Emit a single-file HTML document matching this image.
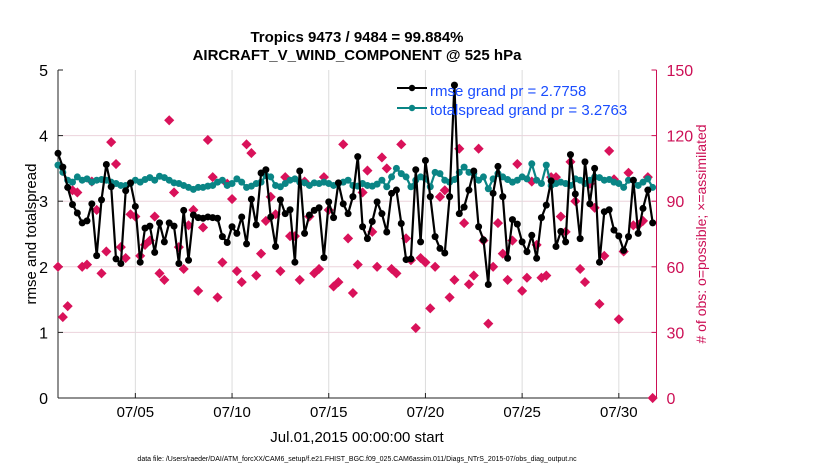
<!DOCTYPE html>
<html><head><meta charset="utf-8"><style>
html,body{margin:0;padding:0;background:#fff;}
svg{display:block;font-family:"Liberation Sans",Arial,sans-serif;}
</style></head><body>
<svg id="chart" width="830" height="470" viewBox="0 0 830 470">
<text x="357" y="42" text-anchor="middle" font-size="15" font-weight="bold">Tropics 9473 / 9484 = 99.884%</text>
<text x="357" y="60" text-anchor="middle" font-size="15" font-weight="bold">AIRCRAFT_V_WIND_COMPONENT @ 525 hPa</text>
<g id="grid"></g>
<g id="axes"></g>
<g id="marks"></g>
<g>
  <g>
    <line x1="397" y1="88" x2="427" y2="88" stroke="#000" stroke-width="2"/>
    <circle cx="412" cy="88" r="3.2" fill="#000"/>
    <text x="430" y="96" font-size="15" fill="#1a4dff">rmse grand pr = 2.7758</text>
  </g>
  <g>
    <line x1="397" y1="108" x2="427" y2="108" stroke="#0a8585" stroke-width="2"/>
    <circle cx="412" cy="108" r="3.2" fill="#0a8585"/>
    <text x="430" y="115" font-size="15" fill="#1a4dff">totalspread grand pr = 3.2763</text>
  </g>
</g>
<text transform="translate(36,234) rotate(-90)" text-anchor="middle" font-size="15">rmse and totalspread</text>
<text transform="translate(706,234) rotate(-90)" text-anchor="middle" font-size="14" fill="#cc0f55"># of obs: o=possible; ×=assimilated</text>
<text x="357" y="442" text-anchor="middle" font-size="15">Jul.01,2015 00:00:00 start</text>
<text x="357" y="461" text-anchor="middle" font-size="7">data file: /Users/raeder/DAI/ATM_forcXX/CAM6_setup/f.e21.FHIST_BGC.f09_025.CAM6assim.011/Diags_NTrS_2015-07/obs_diag_output.nc</text>
</svg>
<script>
const xTickDays=[4,9,14,19,24,29];
const xTickLabels=["07/05","07/10","07/15","07/20","07/25","07/30"];
const yTicks=[0,1,2,3,4,5];
const y2Ticks=[0,30,60,90,120,150];
const rmse=[3.73,3.52,3.21,2.95,2.82,2.67,2.70,2.96,2.17,3.02,3.56,3.22,2.12,2.05,3.16,3.28,2.92,2.07,2.59,2.62,2.22,2.67,2.38,2.67,2.62,2.05,2.86,2.10,2.79,2.75,2.74,2.76,2.75,2.74,2.46,2.37,2.61,2.51,2.76,2.35,3.03,2.64,3.43,3.48,2.76,2.31,3.02,2.81,2.87,2.07,3.46,2.51,2.79,2.86,2.90,2.14,2.99,2.75,3.28,2.96,2.81,3.07,3.68,2.61,2.43,2.69,2.99,2.81,2.53,3.12,3.17,2.66,2.11,2.12,3.48,2.38,3.62,3.07,2.46,2.28,2.21,3.07,4.77,2.81,2.91,3.17,3.46,2.61,2.41,1.73,3.12,3.53,3.07,2.13,2.72,2.65,2.38,2.23,2.48,2.13,2.75,2.94,3.31,2.31,2.54,2.38,3.71,3.11,2.43,3.60,2.96,3.50,2.07,2.84,2.87,2.56,2.47,2.25,2.46,3.32,2.51,2.89,3.17,2.67];
const spread=[3.55,3.44,3.32,3.29,3.37,3.32,3.34,3.29,3.32,3.33,3.32,3.29,3.27,3.24,3.24,3.27,3.32,3.29,3.33,3.36,3.32,3.38,3.36,3.32,3.28,3.27,3.24,3.21,3.18,3.21,3.21,3.23,3.24,3.29,3.32,3.24,3.27,3.34,3.29,3.21,3.23,3.27,3.29,3.39,3.37,3.24,3.22,3.27,3.32,3.34,3.29,3.28,3.24,3.28,3.27,3.29,3.27,3.24,3.27,3.29,3.32,3.24,3.23,3.27,3.24,3.23,3.26,3.32,3.22,3.37,3.50,3.42,3.37,3.22,3.32,3.37,3.34,3.22,3.44,3.42,3.32,3.29,3.33,3.44,3.52,3.44,3.42,3.32,3.37,3.19,3.34,3.42,3.37,3.33,3.29,3.32,3.37,3.34,3.57,3.32,3.27,3.55,3.24,3.27,3.29,3.27,3.24,3.34,3.32,3.27,3.32,3.37,3.36,3.32,3.33,3.29,3.27,3.21,3.32,3.32,3.24,3.29,3.34,3.21];
const obsCount=[60,37,42,95,94,60,61,99,86,57,67,117,107,69,64,84,83,65,70,72,83,57,54,127,94,69,59,79,86,49,78,118,101,46,62,98,91,58,53,116,112,56,66,81,92,84,58,101,74,74,54,99,83,57,59,101,86,51,53,116,73,48,61,94,104,76,60,110,105,59,57,116,73,63,32,64,62,41,60,92,95,46,54,114,80,52,56,114,72,34,60,80,66,54,72,107,49,55,99,70,55,56,101,101,83,76,108,90,59,53,98,87,43,65,113,100,36,67,103,79,79,81,101,0];

const NS="http://www.w3.org/2000/svg";
const X0=58,X1=657.5,Y0=398,Y1=70;
const xScale=d=>X0+(d/31)*(X1-X0);
const yScale=v=>Y0-(v/5)*(Y0-Y1);
const y2Scale=v=>Y0-(v/150)*(Y0-Y1);
const dayOf=i=>i*0.25;
function mk(tag,attrs,parent){const e=document.createElementNS(NS,tag);for(const k in attrs)e.setAttribute(k,attrs[k]);parent.appendChild(e);return e;}
const grid=document.getElementById('grid'),axes=document.getElementById('axes'),marks=document.getElementById('marks');

yTicks.forEach(v=>{ if(v>0&&v<5){const l=mk('line',{x1:X0,x2:X1-1,y1:yScale(v),y2:yScale(v),stroke:'#ecd3dc','stroke-width':1},grid);

}});
xTickDays.forEach((d,k)=>{const x=xScale(d);
const l=mk('line',{x1:x,x2:x,y1:Y1,y2:Y0,stroke:'#dcdcdc','stroke-width':1},grid);


mk('line',{x1:x,x2:x,y1:Y0,y2:Y0-5,stroke:'#222','stroke-width':1},axes);
const t=mk('text',{x:x,y:417,'text-anchor':'middle','font-size':15},axes);t.textContent=xTickLabels[k];

});

mk('line',{x1:X0,x2:X0,y1:Y1,y2:Y0,stroke:'#222','stroke-width':1},axes);
mk('line',{x1:X0,x2:X1-1,y1:Y0,y2:Y0,stroke:'#222','stroke-width':1},axes);
mk('line',{x1:X1-1,x2:X1-1,y1:Y1,y2:Y0,stroke:'#cc0f55','stroke-width':1},axes);
yTicks.forEach(v=>{const y=yScale(v);
mk('line',{x1:X0,x2:X0+5,y1:y,y2:y,stroke:'#222'},axes);
const t=mk('text',{x:X0-10,y:y+6,'text-anchor':'end','font-size':16},axes);t.textContent=v;

});
y2Ticks.forEach(v=>{const y=y2Scale(v);
mk('line',{x1:X1-6,x2:X1-1,y1:y,y2:y,stroke:'#cc0f55'},axes);
const t=mk('text',{x:X1+9,y:y+6,'font-size':16,fill:'#cc0f55'},axes);t.textContent=v;

});

const og=mk('g',{},marks);


obsCount.forEach((v,i)=>{const x=xScale(dayOf(i)),y=y2Scale(v);
const p=mk('path',{d:`M${x} ${y-4.5}L${x+4.5} ${y}L${x} ${y+4.5}L${x-4.5} ${y}Z`,fill:'#d9125a',stroke:'#d9125a','stroke-width':0.8},og);

});

function series(vals,color,name){
const g=mk('g',{},marks);


const pts=vals.map((v,i)=>xScale(dayOf(i)).toFixed(1)+','+yScale(v).toFixed(1)).join(' ');
mk('polyline',{points:pts,fill:'none',stroke:color,'stroke-width':2.2,'stroke-linejoin':'round'},g);
vals.forEach((v,i)=>{const c=mk('circle',{cx:xScale(dayOf(i)),cy:yScale(v),r:3.5,fill:color},g);

});}
series(spread,'#0a8585','totalspread-series');
series(rmse,'#000','rmse-series');
</script>
</body></html>
